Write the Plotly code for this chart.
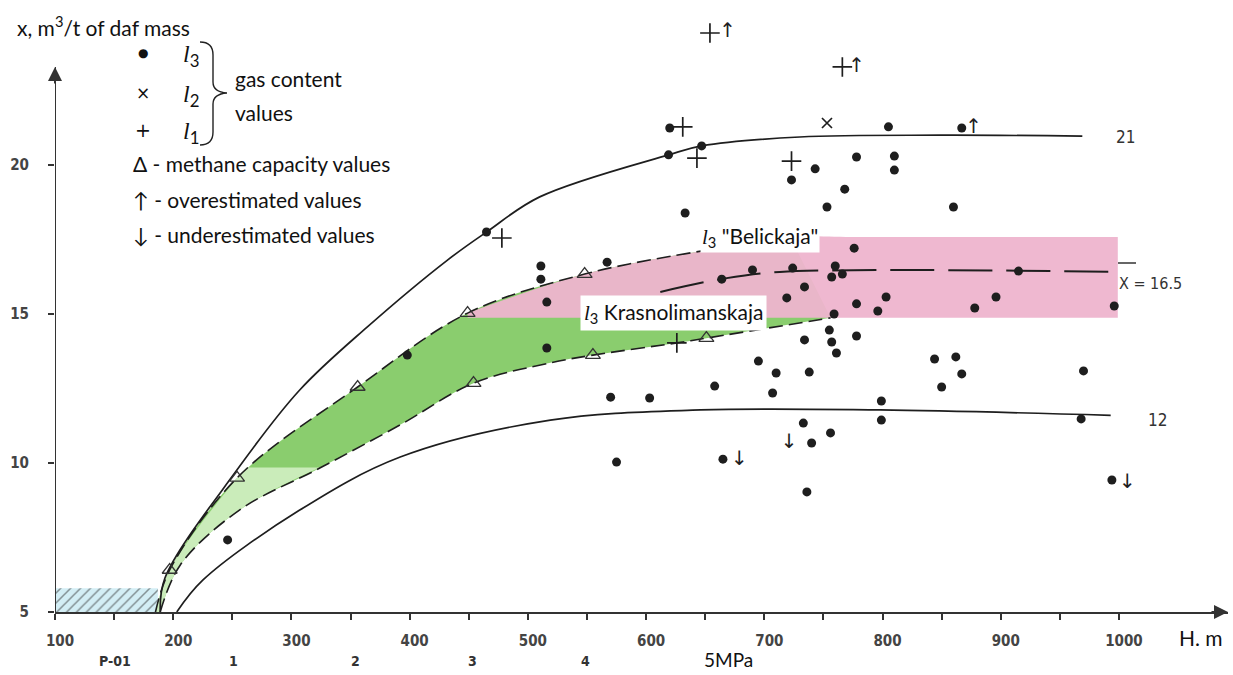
import plotly.graph_objects as go

# ---------------- data ----------------
# l3 seam gas content points (depth H, m ; gas content x, m3/t)
l3_depth = [620, 805, 867, 619, 647, 743, 723, 778, 810, 810, 768, 633, 753, 860, 465,
            776, 511, 511, 567, 516, 690, 724, 760, 757, 766, 915, 664, 734, 719, 778,
            803, 796, 878, 896, 996, 759, 516, 398, 734, 757, 755, 778, 761, 695, 710,
            738, 658, 707, 570, 603, 844, 862, 867, 850, 970, 799, 799, 968, 733, 756,
            740, 575, 665, 736, 994, 246]
l3_gas = [21.24, 21.28, 21.24, 20.34, 20.64, 19.87, 19.50, 20.27, 20.30, 19.83, 19.19, 18.39,
          18.59, 18.59, 17.75, 17.21, 16.61, 16.17, 16.74, 15.40, 16.48, 16.54, 16.61, 16.24,
          16.34, 16.44, 16.17, 15.91, 15.54, 15.34, 15.57, 15.10, 15.20, 15.57, 15.27, 15.00,
          13.86, 13.62, 14.13, 14.06, 14.46, 14.26, 13.69, 13.42, 13.02, 13.05, 12.58, 12.35,
          12.21, 12.18, 13.49, 13.56, 12.99, 12.55, 13.09, 12.08, 11.44, 11.48, 11.34, 11.01,
          10.67, 10.03, 10.13, 9.03, 9.43, 7.42]
# l2 seam
l2_depth = [753]
l2_gas = [21.41]
# l1 seam
l1_depth = [654, 766, 631, 643, 723, 478, 626]
l1_gas = [24.43, 23.29, 21.28, 20.23, 20.13, 17.55, 14.03]
# methane capacity values
cap_depth = [197, 254, 356, 449, 548, 454, 555, 651]
cap_gas = [6.41, 9.50, 12.55, 15.03, 16.34, 12.68, 13.62, 14.19]
# overestimated / underestimated markers
over_depth = [669, 778, 877]
over_gas = [24.46, 23.29, 21.24]
under_depth = [721, 679, 1007]
under_gas = [10.67, 10.10, 9.33]

# curves
curve21_depth = [189, 193, 254, 307, 364, 432, 465, 510, 619, 647, 730, 849, 969]
curve21_gas = [5.0, 6.14, 9.77, 12.45, 14.56, 16.81, 17.75, 18.93, 20.34, 20.64, 20.94, 21.0, 20.97]
curve12_depth = [203, 225, 307, 392, 519, 646, 798, 993]
curve12_gas = [5.0, 6.07, 8.42, 10.2, 11.44, 11.78, 11.78, 11.6]
capmax_depth = [185, 197, 254, 356, 449, 548, 652, 722]
capmax_gas = [5.0, 6.41, 9.50, 12.55, 15.03, 16.34, 17.15, 17.58]
capmin_depth = [189, 206, 256, 324, 392, 454, 519, 555, 626, 651, 756]
capmin_gas = [5.0, 6.58, 8.42, 9.83, 11.28, 12.68, 13.36, 13.62, 14.03, 14.19, 14.87]
mean_depth = [612, 663, 713, 998]
mean_gas = [15.74, 16.17, 16.41, 16.41]
light_split_gas = 9.85
light_split_depth_max = 262
light_split_depth_min = 324
belick_depth = [449, 780, 900, 999]
belick_gas = [14.87, 17.58]
hatch_depth = [100, 187]
hatch_gas = [5.0, 5.8]

x_ticks = list(range(100, 1001, 50))
x_tick_text = [str(v) if v % 100 == 0 else "" for v in x_ticks]
y_ticks = [5, 10, 15, 20]
pressure_depth = [151, 251, 354, 453, 549]
pressure_labels = ["P-01", "1", "2", "3", "4"]

# ---------------- layout helpers ----------------
W, H = 1233, 675
ML, MR, MT, MB = 55, 5, 0, 63
PW, PH = W - ML - MR, H - MT - MB
PX_PER_M = 1.1822
PX_PER_U = 29.8
x_range = [100, 100 + PW / PX_PER_M]
y_range = [5, 5 + PH / PX_PER_U]


def pxp(x):
    return (x - ML) / PW


def pyp(y):
    return (MT + PH - y) / PH


INK = "#1e1e1e"
GREEN = "rgba(132,202,102,0.95)"
LGREEN = "rgba(202,236,186,1)"
PINK = "rgba(238,180,206,0.95)"
NUMFONT = "Liberation Sans Narrow, DejaVu Sans Condensed, sans-serif"
TXTFONT = "Lato, Open Sans, sans-serif"
ITFONT = "Liberation Serif, DejaVu Serif, serif"

fig = go.Figure()
noline = dict(width=0, shape="spline")

# hatched area
fig.add_trace(go.Scatter(
    x=[hatch_depth[0], hatch_depth[1], hatch_depth[1], hatch_depth[0]],
    y=[hatch_gas[0], hatch_gas[0], hatch_gas[1], hatch_gas[1]],
    mode="lines", line=dict(width=0), fill="toself",
    fillpattern=dict(shape="/", bgcolor="#d3eef5", fgcolor="#333333", size=7, solidity=0.22),
    hoverinfo="skip"))

# green band
fig.add_trace(go.Scatter(x=capmin_depth, y=capmin_gas, mode="lines", line=noline, hoverinfo="skip"))
fig.add_trace(go.Scatter(x=capmax_depth, y=capmax_gas, mode="lines", line=noline,
                         fill="tonexty", fillcolor=GREEN, hoverinfo="skip"))
# light green lower part
lo_d = [d for d in capmin_depth if d < light_split_depth_min] + [light_split_depth_min]
lo_g = capmin_gas[:len(lo_d) - 1] + [light_split_gas]
hi_d = [d for d in capmax_depth if d < light_split_depth_max] + [light_split_depth_max]
hi_g = capmax_gas[:len(hi_d) - 1] + [light_split_gas]
fig.add_trace(go.Scatter(x=lo_d, y=lo_g, mode="lines", line=noline, hoverinfo="skip"))
fig.add_trace(go.Scatter(x=hi_d, y=hi_g, mode="lines", line=noline,
                         fill="tonexty", fillcolor=LGREEN, hoverinfo="skip"))
# pink band (Belickaja)
fig.add_trace(go.Scatter(x=[belick_depth[0], belick_depth[-1]], y=[belick_gas[0]] * 2, mode="lines",
                         line=dict(width=0), hoverinfo="skip"))
i0 = capmax_depth.index(belick_depth[0])
fig.add_trace(go.Scatter(x=capmax_depth[i0:] + belick_depth[1:],
                         y=capmax_gas[i0:] + [belick_gas[1]] * (len(belick_depth) - 1),
                         mode="lines", line=noline,
                         fill="tonexty", fillcolor=PINK, hoverinfo="skip"))

# curves
fig.add_trace(go.Scatter(x=curve21_depth, y=curve21_gas, mode="lines",
                         line=dict(color=INK, width=1.7, shape="spline")))
fig.add_trace(go.Scatter(x=curve12_depth, y=curve12_gas, mode="lines",
                         line=dict(color=INK, width=1.7, shape="spline")))
fig.add_trace(go.Scatter(x=capmax_depth, y=capmax_gas, mode="lines",
                         line=dict(color=INK, width=1.6, shape="spline", dash="14px,6px")))
fig.add_trace(go.Scatter(x=capmin_depth, y=capmin_gas, mode="lines",
                         line=dict(color=INK, width=1.6, shape="spline", dash="14px,6px")))
fig.add_trace(go.Scatter(x=mean_depth, y=mean_gas, mode="lines",
                         line=dict(color=INK, width=2, shape="spline", dash="44px,14px")))

# markers
fig.add_trace(go.Scatter(x=cap_depth, y=cap_gas, mode="markers",
                         marker=dict(symbol="triangle-up-open", size=13, color="#333",
                                     line=dict(width=1.3, color="#333"))))
fig.add_trace(go.Scatter(x=l3_depth, y=l3_gas, mode="markers",
                         marker=dict(symbol="circle", size=9, color=INK)))
fig.add_trace(go.Scatter(x=l1_depth, y=l1_gas, mode="markers",
                         marker=dict(symbol="cross-thin", size=14, line=dict(width=1.7, color=INK))))
fig.add_trace(go.Scatter(x=l2_depth, y=l2_gas, mode="markers",
                         marker=dict(symbol="x-thin", size=10, line=dict(width=1.7, color=INK))))
fig.add_trace(go.Scatter(x=over_depth, y=over_gas, mode="text", text=["↑"] * len(over_depth),
                         textfont=dict(size=20, color=INK, family="DejaVu Sans")))
fig.add_trace(go.Scatter(x=under_depth, y=under_gas, mode="text", text=["↓"] * len(under_depth),
                         textfont=dict(size=20, color=INK, family="DejaVu Sans")))

ann = []


def txt(x, y, s, size, family=TXTFONT, xanchor="center", color="#111", **kw):
    ann.append(dict(x=pxp(x), y=pyp(y), xref="paper", yref="paper", text=s, showarrow=False,
                    xanchor=xanchor, yanchor="middle", font=dict(size=size, family=family, color=color),
                    **kw))


def lsub(n, rest=""):
    return f"<span style='font-family:{ITFONT}'><i>l</i></span><sub>{n}</sub>{rest}"


# curve labels
txt(1125, 137, "21", 17, NUMFONT, color="#333")
txt(1157, 420, "12", 17, NUMFONT, color="#333")
txt(1150, 283, "X = 16.5", 16, NUMFONT, color="#333")
# seam labels (white boxes)
txt(760, 237, lsub(3, " \"Belickaja\""), 21, bgcolor="white", borderpad=1)
txt(673, 313, lsub(3, " Krasnolimanskaja"), 21, bgcolor="white", borderpad=3)
# axis titles
txt(15, 26, "x, m<sup>3</sup>/t of daf mass", 21, xanchor="left")
txt(1201, 637, "H. m", 21)
# pressure labels
for d, lab in zip(pressure_depth, pressure_labels):
    ann.append(dict(x=d, y=pyp(661), xref="x", yref="paper", text=lab, showarrow=False,
                    yanchor="middle", font=dict(size=14, family=NUMFONT, color="#333", weight="bold")))
txt(728, 659, "5MPa", 19)
# legend
txt(143, 53, "●", 12, "DejaVu Sans")
txt(143, 93, "×", 17, "DejaVu Sans")
txt(143, 130, "+", 19, "DejaVu Sans")
txt(181, 56, lsub(3), 24, xanchor="left")
txt(181, 96, lsub(2), 24, xanchor="left")
txt(181, 133, lsub(1), 24, xanchor="left")
txt(233, 78, "gas content", 21, xanchor="left")
txt(233, 112, "values", 21, xanchor="left")
txt(131, 163, "Δ - methane capacity values", 21, xanchor="left")
txt(131, 200, "↑ - overestimated values", 21, xanchor="left")
txt(131, 235, "↓ - underestimated values", 21, xanchor="left")

# axis arrows
ann.append(dict(x=x_range[1], y=5, xref="x", yref="y", ax=-18, ay=0,
                showarrow=True, arrowhead=2, arrowsize=1.4, arrowwidth=2, arrowcolor="#333", text=""))
y_top = 5 + (612 - 67) / PX_PER_U
ann.append(dict(x=100, y=y_top, xref="x", yref="y", ax=0, ay=18,
                showarrow=True, arrowhead=2, arrowsize=1.4, arrowwidth=2, arrowcolor="#333", text=""))


def brace_path():
    pts = [("M", (200, 42)), ("Q", (213, 42), (213, 55)), ("L", (213, 82)),
           ("Q", (213, 92), (227, 93)), ("Q", (213, 94), (213, 104)), ("L", (213, 132)),
           ("Q", (213, 145), (200, 145))]
    s = ""
    for p in pts:
        s += p[0] + " " + " ".join(f"{pxp(a):.5f},{pyp(b):.5f}" for a, b in p[1:]) + " "
    return s


shapes = [
    dict(type="line", xref="x", yref="y", x0=100, x1=100, y0=5, y1=y_top,
         line=dict(color="#333", width=2)),
    dict(type="path", xref="paper", yref="paper", path=brace_path(),
         line=dict(color="#222", width=1.4)),
    dict(type="line", xref="paper", yref="paper", x0=pxp(1118), x1=pxp(1136),
         y0=pyp(263), y1=pyp(263), line=dict(color="#333", width=1.5)),
]

fig.update_layout(
    width=W, height=H, margin=dict(l=ML, r=MR, t=MT, b=MB),
    paper_bgcolor="white", plot_bgcolor="white", showlegend=False,
    annotations=ann, shapes=shapes,
    xaxis=dict(range=x_range, showgrid=False, zeroline=False, showline=True, linecolor="#333",
               linewidth=2, ticks="outside", ticklen=6, tickwidth=1.5, tickcolor="#333",
               tickvals=x_ticks, ticktext=x_tick_text, ticklabelstandoff=8, ticklabelshift=5,
               tickfont=dict(family=NUMFONT, size=15, color="#444", weight="bold")),
    yaxis=dict(range=y_range, showgrid=False, zeroline=False, showline=False,
               ticks="outside", ticklen=6, tickwidth=1.5, tickcolor="#333",
               tickvals=y_ticks, ticklabelstandoff=16,
               tickfont=dict(family=NUMFONT, size=15, color="#444", weight="bold")),
)

fig.write_html("out.html", config={"displayModeBar": False},
               post_script="document.body.style.margin='0px';")
